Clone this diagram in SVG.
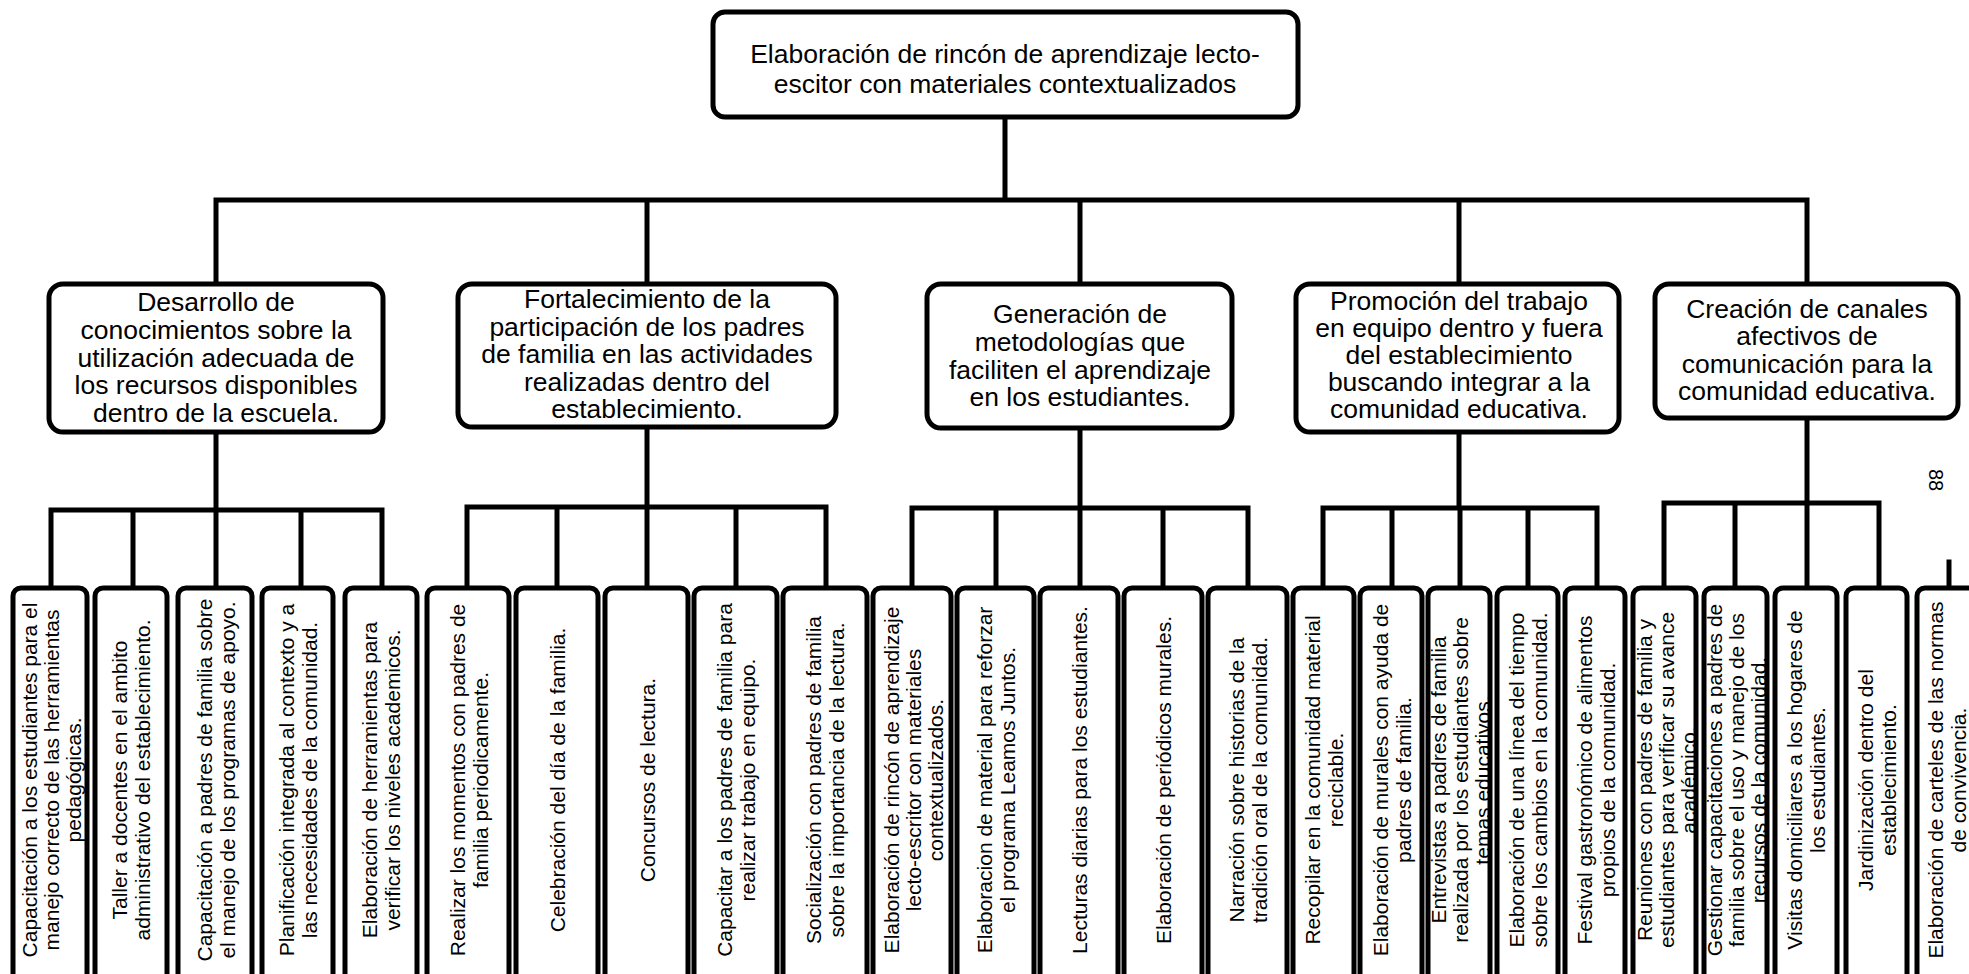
<svg xmlns="http://www.w3.org/2000/svg" width="1969" height="974" viewBox="0 0 1969 974">
<style>
.box{fill:#fff;stroke:#000;stroke-width:5}
.conn{stroke:#000;stroke-width:5;fill:none;stroke-linecap:square}
text{font-family:"Liberation Sans",Arial,sans-serif;fill:#000}
.t1{font-size:26.5px;text-anchor:middle}
.t3{font-size:21px;text-anchor:middle}
</style>
<rect width="1969" height="974" fill="#fff"/>
<g id="connectors">
<path class="conn" d="M1005,117V200M216,200H1807M216,200V284M647,200V284M1080,200V284M1459,200V284M1807,200V284"/>
<path class="conn" d="M216,432V510M51,510H382M51,510V588M133,510V588M216,510V588M301,510V588M382,510V588"/>
<path class="conn" d="M647,427V507M467,507H826M467,507V588M557,507V588M647,507V588M736,507V588M826,507V588"/>
<path class="conn" d="M1080,428V508M912,508H1248M912,508V588M996,508V588M1080,508V588M1163,508V588M1248,508V588"/>
<path class="conn" d="M1459,432V508M1323,508H1597M1323,508V588M1392,508V588M1460,508V588M1528,508V588M1597,508V588"/>
<path class="conn" d="M1807,418V503M1664,503H1879M1664,503V588M1735,503V588M1807,503V588M1879,503V588"/>
<path class="conn" d="M1949,562V588"/>
</g>
<g id="root">
<rect class="box" x="713" y="12" width="585" height="105" rx="12"/>
<text class="t1" x="1005" y="63">Elaboración de rincón de aprendizaje lecto-</text>
<text class="t1" x="1005" y="93">escitor con materiales contextualizados</text>
</g>
<g id="n1">
<rect class="box" x="49" y="284" width="334" height="148" rx="14"/>
<text class="t1"><tspan x="216" y="311">Desarrollo de</tspan><tspan x="216" y="339">conocimientos sobre la</tspan><tspan x="216" y="367">utilización adecuada de</tspan><tspan x="216" y="394">los recursos disponibles</tspan><tspan x="216" y="422">dentro de la escuela.</tspan></text>
</g>
<g id="n2">
<rect class="box" x="458" y="284" width="378" height="143" rx="14"/>
<text class="t1"><tspan x="647" y="308">Fortalecimiento de la</tspan><tspan x="647" y="335.5">participación de los padres</tspan><tspan x="647" y="363">de familia en las actividades</tspan><tspan x="647" y="390.5">realizadas dentro del</tspan><tspan x="647" y="418">establecimiento.</tspan></text>
</g>
<g id="n3">
<rect class="box" x="927" y="284" width="305" height="144" rx="14"/>
<text class="t1"><tspan x="1080" y="323">Generación de</tspan><tspan x="1080" y="351">metodologías que</tspan><tspan x="1080" y="378.5">faciliten el aprendizaje</tspan><tspan x="1080" y="406">en los estudiantes.</tspan></text>
</g>
<g id="n4">
<rect class="box" x="1296" y="284" width="323" height="148" rx="14"/>
<text class="t1"><tspan x="1459" y="310">Promoción del trabajo</tspan><tspan x="1459" y="337">en equipo dentro y fuera</tspan><tspan x="1459" y="364">del establecimiento</tspan><tspan x="1459" y="391">buscando integrar a la</tspan><tspan x="1459" y="418">comunidad educativa.</tspan></text>
</g>
<g id="n5">
<rect class="box" x="1655" y="284" width="303" height="134" rx="14"/>
<text class="t1"><tspan x="1807" y="318">Creación de canales</tspan><tspan x="1807" y="345">afectivos de</tspan><tspan x="1807" y="373">comunicación para la</tspan><tspan x="1807" y="400">comunidad educativa.</tspan></text>
</g>
<g id="n1a"><rect class="box" x="13" y="588" width="74" height="420" rx="8"/>
<text class="t3" transform="translate(51,780) rotate(-90)"><tspan x="0" y="-14.5">Capacitación a los estudiantes para el</tspan><tspan x="0" y="7.5">manejo correcto de las herramientas</tspan><tspan x="0" y="29.5">pedagógicas.</tspan></text></g>
<g id="n1b"><rect class="box" x="95" y="588" width="72" height="420" rx="8"/>
<text class="t3" transform="translate(131,780) rotate(-90)"><tspan x="0" y="-4">Taller a docentes en el ambito</tspan><tspan x="0" y="19">administrativo  del establecimiento.</tspan></text></g>
<g id="n1c"><rect class="box" x="178" y="588" width="74" height="420" rx="8"/>
<text class="t3" transform="translate(216,780) rotate(-90)"><tspan x="0" y="-4">Capacitación a padres de familia sobre</tspan><tspan x="0" y="19">el manejo de los programas de apoyo.</tspan></text></g>
<g id="n1d"><rect class="box" x="262" y="588" width="71" height="420" rx="8"/>
<text class="t3" transform="translate(298,780) rotate(-90)"><tspan x="0" y="-4">Planificación integrada al contexto y a</tspan><tspan x="0" y="19">las necesidades de la comunidad.</tspan></text></g>
<g id="n1e"><rect class="box" x="345" y="588" width="72" height="420" rx="8"/>
<text class="t3" transform="translate(381,780) rotate(-90)"><tspan x="0" y="-4">Elaboración de herramientas para</tspan><tspan x="0" y="19">verificar los niveles academicos.</tspan></text></g>
<g id="n2a"><rect class="box" x="427" y="588" width="82" height="420" rx="8"/>
<text class="t3" transform="translate(469,780) rotate(-90)"><tspan x="0" y="-4">Realizar los momentos con padres de</tspan><tspan x="0" y="19">familia periodicamente.</tspan></text></g>
<g id="n2b"><rect class="box" x="516" y="588" width="82" height="420" rx="8"/>
<text class="t3" transform="translate(557,780) rotate(-90)"><tspan x="0" y="7.5">Celebración del día de la familia.</tspan></text></g>
<g id="n2c"><rect class="box" x="605" y="588" width="83" height="420" rx="8"/>
<text class="t3" transform="translate(647,780) rotate(-90)"><tspan x="0" y="7.5">Concursos de lectura.</tspan></text></g>
<g id="n2d"><rect class="box" x="694" y="588" width="83" height="420" rx="8"/>
<text class="t3" transform="translate(736,780) rotate(-90)"><tspan x="0" y="-4">Capacitar a los padres de familia para</tspan><tspan x="0" y="19">realizar trabajo en equipo.</tspan></text></g>
<g id="n2e"><rect class="box" x="783" y="588" width="84" height="420" rx="8"/>
<text class="t3" transform="translate(825,780) rotate(-90)"><tspan x="0" y="-4">Socialización con padres de familia</tspan><tspan x="0" y="19">sobre la importancia de la lectura.</tspan></text></g>
<g id="n3a"><rect class="box" x="873" y="588" width="78" height="420" rx="8"/>
<text class="t3" transform="translate(913,780) rotate(-90)"><tspan x="0" y="-14.5">Elaboración de rincón de aprendizaje</tspan><tspan x="0" y="7.5">lecto-escritor con materiales</tspan><tspan x="0" y="29.5">contextualizados.</tspan></text></g>
<g id="n3b"><rect class="box" x="957" y="588" width="77" height="420" rx="8"/>
<text class="t3" transform="translate(996,780) rotate(-90)"><tspan x="0" y="-4">Elaboracion de material para reforzar</tspan><tspan x="0" y="19">el programa Leamos Juntos.</tspan></text></g>
<g id="n3c"><rect class="box" x="1040" y="588" width="78" height="420" rx="8"/>
<text class="t3" transform="translate(1079,780) rotate(-90)"><tspan x="0" y="7.5">Lecturas diarias para los estudiantes.</tspan></text></g>
<g id="n3d"><rect class="box" x="1124" y="588" width="78" height="420" rx="8"/>
<text class="t3" transform="translate(1163,780) rotate(-90)"><tspan x="0" y="7.5">Elaboración de periódicos murales.</tspan></text></g>
<g id="n3e"><rect class="box" x="1208" y="588" width="79" height="420" rx="8"/>
<text class="t3" transform="translate(1248,780) rotate(-90)"><tspan x="0" y="-4">Narración sobre historias de la</tspan><tspan x="0" y="19">tradición oral de la comunidad.</tspan></text></g>
<g id="n4a"><rect class="box" x="1293" y="588" width="61" height="420" rx="8"/>
<text class="t3" transform="translate(1324,780) rotate(-90)"><tspan x="0" y="-4">Recopilar en la comunidad material</tspan><tspan x="0" y="19">reciclable.</tspan></text></g>
<g id="n4b"><rect class="box" x="1360" y="588" width="62" height="420" rx="8"/>
<text class="t3" transform="translate(1392,780) rotate(-90)"><tspan x="0" y="-4">Elaboración de murales con ayuda de</tspan><tspan x="0" y="19">padres de familia.</tspan></text></g>
<g id="n4c"><rect class="box" x="1428" y="588" width="62" height="420" rx="8"/>
<text class="t3" transform="translate(1460,780) rotate(-90)"><tspan x="0" y="-14.5">Entrevistas a padres de familia</tspan><tspan x="0" y="7.5">realizada por los estudiantes sobre</tspan><tspan x="0" y="29.5">temas educativos.</tspan></text></g>
<g id="n4d"><rect class="box" x="1497" y="588" width="61" height="420" rx="8"/>
<text class="t3" transform="translate(1528,780) rotate(-90)"><tspan x="0" y="-4">Elaboración de una línea del tiempo</tspan><tspan x="0" y="19">sobre los cambios en la comunidad.</tspan></text></g>
<g id="n4e"><rect class="box" x="1565" y="588" width="60" height="420" rx="8"/>
<text class="t3" transform="translate(1596,780) rotate(-90)"><tspan x="0" y="-4">Festival gastronómico de alimentos</tspan><tspan x="0" y="19">propios de la comunidad.</tspan></text></g>
<g id="n5a"><rect class="box" x="1633" y="588" width="63" height="420" rx="8"/>
<text class="t3" transform="translate(1666,780) rotate(-90)"><tspan x="0" y="-14.5">Reuniones con padres de familia y</tspan><tspan x="0" y="7.5">estudiantes para verificar su avance</tspan><tspan x="0" y="29.5">académico.</tspan></text></g>
<g id="n5b"><rect class="box" x="1704" y="588" width="63" height="420" rx="8"/>
<text class="t3" transform="translate(1736,780) rotate(-90)"><tspan x="0" y="-14.5">Gestionar capacitaciones a padres de</tspan><tspan x="0" y="7.5">familia sobre el uso y manejo de los</tspan><tspan x="0" y="29.5">recursos de la comunidad.</tspan></text></g>
<g id="n5c"><rect class="box" x="1775" y="588" width="62" height="420" rx="8"/>
<text class="t3" transform="translate(1806,780) rotate(-90)"><tspan x="0" y="-4">Visitas domiciliares a los hogares de</tspan><tspan x="0" y="19">los estudiantes.</tspan></text></g>
<g id="n5d"><rect class="box" x="1846" y="588" width="61" height="420" rx="8"/>
<text class="t3" transform="translate(1877,780) rotate(-90)"><tspan x="0" y="-4">Jardinización dentro del</tspan><tspan x="0" y="19">establecimiento.</tspan></text></g>
<g id="n5e"><rect class="box" x="1917" y="588" width="90" height="420" rx="8"/>
<text class="t3" transform="translate(1947,780) rotate(-90)"><tspan x="0" y="-4">Elaboración de carteles de las normas</tspan><tspan x="0" y="19">de convivencia.</tspan></text></g>
<g id="page">
<text transform="translate(1936,480) rotate(90)" style="font-size:20px;text-anchor:middle" x="0" y="7">88</text>
</g>
</svg>
